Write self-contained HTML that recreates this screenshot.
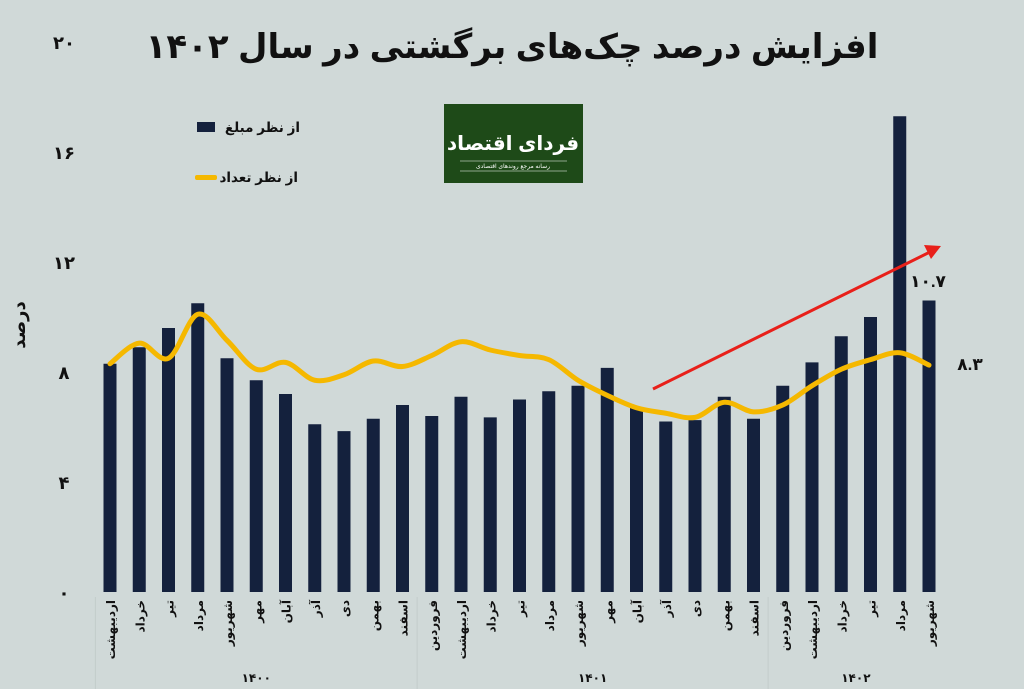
<!DOCTYPE html>
<html><head><meta charset="utf-8"><style>
body{margin:0;background:#d0d9d8;}
svg{display:block;font-family:"Liberation Sans","DejaVu Sans",sans-serif;}
</style></head><body>
<svg id="c" width="1024" height="689" viewBox="0 0 1024 689" xmlns="http://www.w3.org/2000/svg">
<rect width="1024" height="689" fill="#d0d9d8"/>
<text x="512" y="58" text-anchor="middle" font-size="34" font-weight="bold" fill="#111" direction="rtl">افزایش درصد چک‌های برگشتی در سال ۱۴۰۲</text>
<text transform="translate(25,325) rotate(-90)" text-anchor="middle" font-size="18" font-weight="bold" fill="#111">درصد</text>
<g>
<rect x="197" y="122" width="18" height="10" fill="#14213d"/>
<text x="300" y="132" text-anchor="end" font-size="13.5" font-weight="bold" fill="#111">از نظر مبلغ</text>
<rect x="195" y="175" width="22" height="5" rx="2" fill="#f5b800"/>
<text x="298" y="182" text-anchor="end" font-size="13.5" font-weight="bold" fill="#111">از نظر تعداد</text>
</g>
<g>
<rect x="444" y="104" width="139" height="79" fill="#1e4a18"/>
<text x="513" y="150" text-anchor="middle" font-size="20" font-weight="bold" fill="#fff">فردای اقتصاد</text>
<line x1="460" y1="161" x2="567" y2="161" stroke="#fff" stroke-width="0.6"/>
<text x="513" y="168" text-anchor="middle" font-size="6" fill="#fff">رسانه مرجع روندهای اقتصادی</text>
<line x1="460" y1="171" x2="567" y2="171" stroke="#fff" stroke-width="0.6"/>
</g>
<g id="yaxis"></g>
<g id="bars"></g>
<g id="xlabels"></g>
<path id="line" fill="none" stroke="#f5b800" stroke-width="5" stroke-linejoin="round" stroke-linecap="round"/>
<g>
<line x1="653" y1="389" x2="930" y2="252" stroke="#e8201a" stroke-width="3"/>
<polygon points="941,246 924,245 931,259" fill="#e8201a"/>
</g>
<text x="928" y="287" text-anchor="middle" font-size="17" font-weight="bold" fill="#111">۱۰.۷</text>
<text x="970" y="370" text-anchor="middle" font-size="17" font-weight="bold" fill="#111">۸.۳</text>
</svg>
<script>
const months=["اردیبهشت","خرداد","تیر","مرداد","شهریور","مهر","آبان","آذر","دی","بهمن","اسفند","فروردین","اردیبهشت","خرداد","تیر","مرداد","شهریور","مهر","آبان","آذر","دی","بهمن","اسفند","فروردین","اردیبهشت","خرداد","تیر","مرداد","شهریور"];
const amountValues=[8.3,8.9,9.6,10.5,8.5,7.7,7.2,6.1,5.85,6.3,6.8,6.4,7.1,6.35,7.0,7.3,7.5,8.15,6.7,6.2,6.25,7.1,6.3,7.5,8.35,9.3,10.0,17.3,10.6];
const countValues=[8.3,9.05,8.5,10.1,9.15,8.1,8.35,7.7,7.9,8.4,8.2,8.6,9.1,8.8,8.6,8.45,7.7,7.15,6.7,6.5,6.35,6.9,6.55,6.8,7.5,8.1,8.45,8.7,8.25];
const yTicks=[0,4,8,12,16,20];
const yTickLabels=["۰","۴","۸","۱۲","۱۶","۲۰"];
const years=["۱۴۰۰","۱۴۰۱","۱۴۰۲"];
const yearCounts=[11,12,6];

const NS="http://www.w3.org/2000/svg";
const x0=110,x1=929;
const xs=i=>x0+(x1-x0)*i/(months.length-1);
const ys=v=>592-v*27.5;
function mk(t,a,p){const e=document.createElementNS(NS,t);for(const k in a)e.setAttribute(k,a[k]);p.appendChild(e);return e;}
const ya=document.getElementById('yaxis');
yTicks.forEach((v,i)=>{const t=mk('text',{x:64,y:ys(v)+7,'text-anchor':'middle','font-size':18,'font-weight':'bold',fill:'#111'},ya);


t.textContent=yTickLabels[i];});
const bg=document.getElementById('bars');
amountValues.forEach((v,i)=>{const r=mk('rect',{x:xs(i)-6.5,y:ys(v),width:13,height:592-ys(v),fill:'#14213d'},bg);

});
const xl=document.getElementById('xlabels');
months.forEach((m,i)=>{const t=mk('text',{transform:`translate(${xs(i)+5},600) rotate(-90)`,'text-anchor':'end','font-size':12,'font-weight':'bold',fill:'#111'},xl);


t.textContent=m;});
let start=0;const step=(x1-x0)/(months.length-1);
yearCounts.forEach((n,k)=>{const a=xs(start)-step/2,b=xs(start+n-1)+step/2;
const l=mk('line',{x1:a,y1:597,x2:a,y2:689,stroke:'#c3cccb','stroke-width':1},xl);


const t=mk('text',{x:(a+b)/2,y:682,'text-anchor':'middle','font-size':12,'font-weight':'bold',fill:'#111'},xl);


t.textContent=years[k];start+=n;});
const pts=countValues.map((v,i)=>[xs(i),ys(v)]);
let d=`M${pts[0][0]},${pts[0][1]}`;
for(let i=0;i<pts.length-1;i++){const p0=pts[i-1]||pts[i],p1=pts[i],p2=pts[i+1],p3=pts[i+2]||p2;
d+=` C${p1[0]+(p2[0]-p0[0])/6},${p1[1]+(p2[1]-p0[1])/6} ${p2[0]-(p3[0]-p1[0])/6},${p2[1]-(p3[1]-p1[1])/6} ${p2[0]},${p2[1]}`;}
document.getElementById('line').setAttribute('d',d);
</script>
</body></html>
